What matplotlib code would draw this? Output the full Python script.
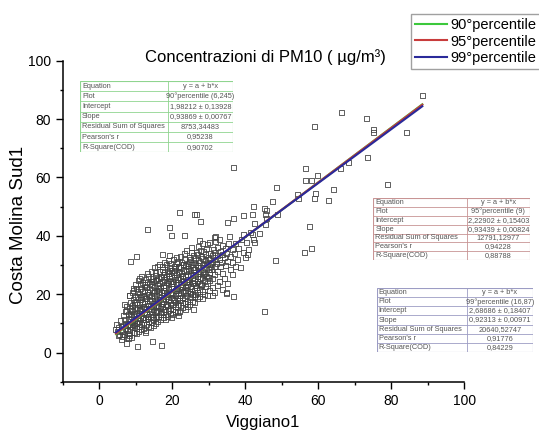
import matplotlib
matplotlib.use("Agg")
import matplotlib.pyplot as plt
import numpy as np

plt.rcParams['font.family'] = ['Liberation Sans', 'DejaVu Sans']

# --- data ---
# dense cloud (Viggiano1, Costa Molina Sud1)
cloud = [
    (5.0, 7.2), (5.3, 8.5), (4.8, 9.6), (5.6, 6.3), (5.9, 10.8), (5.2, 5.8), (4.6, 7.9), (6.0, 8.9),
    (6.3, 5.4), (6.5, 7.1), (6.4, 9.3), (6.8, 11.2), (6.6, 12.8), (7.0, 6.2), (7.1, 8.4), (7.3, 10.1),
    (7.2, 13.9), (7.5, 15.6), (7.6, 5.1), (7.8, 7.6), (7.7, 9.2), (7.9, 11.8), (7.6, 14.4), (6.9, 16.3),
    (8.0, 12.9), (6.2, 4.6), (7.4, 3.2),
    (8.2, 6.0), (8.4, 7.8), (8.3, 9.7), (8.5, 11.4), (8.6, 13.1), (8.4, 15.2), (8.7, 17.3), (8.2, 19.4),
    (8.9, 5.3), (9.0, 8.6), (9.1, 10.5), (8.9, 12.2), (9.2, 14.0), (9.0, 16.1), (9.3, 18.2), (9.1, 20.5),
    (9.5, 22.0), (9.6, 6.8), (9.7, 9.4), (9.8, 11.0), (9.6, 13.2), (9.9, 15.0), (9.7, 17.0), (9.9, 19.1),
    (9.5, 21.1), (10.0, 23.4),
    (10.2, 6.5), (10.3, 8.1), (10.1, 9.9), (10.4, 11.7), (10.2, 13.5), (10.5, 15.4), (10.3, 17.2),
    (10.6, 19.0), (10.4, 20.9), (10.7, 24.6), (10.8, 7.3), (10.9, 9.0), (11.0, 10.8), (10.8, 12.6),
    (11.1, 14.3), (10.9, 16.3), (11.2, 18.1), (11.0, 20.0), (11.3, 22.0), (11.1, 25.5), (11.5, 7.9),
    (11.6, 9.7), (11.4, 11.6), (11.7, 13.3), (11.5, 15.2), (11.8, 17.0), (11.6, 19.1), (11.9, 21.0),
    (11.4, 23.2), (11.7, 26.1),
    (12.1, 8.4), (12.2, 10.3), (12.0, 12.0), (12.3, 13.8), (12.1, 15.7), (12.4, 17.6), (12.2, 19.4),
    (12.5, 21.3), (12.3, 23.2), (12.6, 25.0), (12.8, 7.7), (12.9, 9.5), (12.7, 11.2), (13.0, 13.0),
    (12.8, 14.9), (13.1, 16.8), (12.9, 18.6), (13.2, 20.4), (13.0, 22.4), (13.3, 24.1), (13.1, 27.2),
    (13.5, 8.9), (13.6, 10.7), (13.4, 12.5), (13.7, 14.2), (13.5, 16.1), (13.8, 17.9), (13.6, 19.8),
    (13.9, 21.7), (13.7, 23.5), (13.4, 26.0),
    (14.1, 8.6), (14.2, 10.4), (14.0, 12.2), (14.3, 14.0), (14.1, 15.9), (14.4, 17.7), (14.2, 19.5),
    (14.5, 21.4), (14.3, 23.3), (14.6, 25.2), (14.4, 27.9), (14.8, 9.4), (14.9, 11.3), (14.7, 13.1),
    (15.0, 14.9), (14.8, 16.8), (15.1, 18.6), (14.9, 20.5), (15.2, 22.3), (15.0, 24.2), (15.3, 26.4),
    (15.1, 29.0), (15.5, 10.0), (15.6, 12.0), (15.4, 13.8), (15.7, 15.7), (15.5, 17.5), (15.8, 19.4),
    (15.6, 21.2), (15.9, 23.1), (15.7, 25.0), (15.4, 27.3), (15.9, 29.6),
    (16.1, 10.6), (16.2, 12.5), (16.0, 14.3), (16.3, 16.2), (16.1, 18.0), (16.4, 19.9), (16.2, 21.8),
    (16.5, 23.6), (16.3, 25.5), (16.6, 27.6), (16.4, 30.3), (16.8, 11.3), (16.9, 13.2), (16.7, 15.0),
    (17.0, 16.9), (16.8, 18.7), (17.1, 20.6), (16.9, 22.4), (17.2, 24.3), (17.0, 26.1), (17.3, 28.3),
    (17.5, 12.0), (17.6, 13.9), (17.4, 15.7), (17.7, 17.6), (17.5, 19.4), (17.8, 21.3), (17.6, 23.1),
    (17.9, 25.0), (17.7, 26.8), (17.4, 29.5), (17.9, 31.0),
    (18.1, 11.4), (18.2, 13.0), (18.0, 14.8), (18.3, 16.6), (18.1, 18.5), (18.4, 20.3), (18.2, 22.2),
    (18.5, 24.0), (18.3, 25.9), (18.6, 27.8), (18.4, 30.0), (18.8, 12.4), (18.9, 14.3), (18.7, 16.1),
    (19.0, 18.0), (18.8, 19.8), (19.1, 21.7), (18.9, 23.5), (19.2, 25.4), (19.0, 27.2), (19.3, 29.0),
    (19.1, 31.6), (19.5, 13.3), (19.6, 15.1), (19.4, 17.0), (19.7, 18.8), (19.5, 20.7), (19.8, 22.5),
    (19.6, 24.4), (19.9, 26.2), (19.7, 28.1), (19.4, 30.4),
    (20.1, 12.9), (20.2, 14.6), (20.0, 16.4), (20.3, 18.3), (20.1, 20.1), (20.4, 22.0), (20.2, 23.8),
    (20.5, 25.7), (20.3, 27.5), (20.6, 29.4), (20.4, 31.8), (20.8, 14.0), (20.9, 15.8), (20.7, 17.7),
    (21.0, 19.5), (20.8, 21.4), (21.1, 23.2), (20.9, 25.1), (21.2, 26.9), (21.0, 28.8), (21.3, 30.6),
    (21.1, 32.5), (21.5, 13.6), (21.6, 16.5), (21.4, 18.4), (21.7, 20.2), (21.5, 22.1), (21.8, 23.9),
    (21.6, 25.8), (21.9, 27.6), (21.7, 29.5), (21.4, 31.3),
    (22.1, 14.2), (22.2, 16.0), (22.0, 17.9), (22.3, 19.7), (22.1, 21.6), (22.4, 23.4), (22.2, 25.3),
    (22.5, 27.1), (22.3, 29.0), (22.6, 30.9), (22.4, 33.0), (22.8, 15.3), (22.9, 17.1), (22.7, 19.0),
    (23.0, 20.8), (22.8, 22.7), (23.1, 24.5), (22.9, 26.4), (23.2, 28.2), (23.0, 30.1), (23.3, 31.9),
    (23.5, 14.6), (23.6, 16.7), (23.4, 18.6), (23.7, 20.4), (23.5, 22.3), (23.8, 24.1), (23.6, 26.0),
    (23.9, 27.8), (23.7, 29.7), (23.4, 33.8), (23.9, 35.0),
    (24.1, 15.7), (24.2, 17.6), (24.0, 19.5), (24.3, 21.3), (24.1, 23.2), (24.4, 25.0), (24.2, 26.9),
    (24.5, 28.7), (24.3, 30.6), (24.6, 32.4), (24.8, 16.3), (24.9, 18.9), (24.7, 20.8), (25.0, 22.6),
    (24.8, 24.5), (25.1, 26.3), (24.9, 28.2), (25.2, 30.0), (25.0, 31.9), (25.3, 34.2), (25.5, 17.5),
    (25.6, 19.9), (25.4, 21.8), (25.7, 23.6), (25.5, 25.5), (25.8, 27.3), (25.6, 29.2), (25.9, 31.0),
    (25.7, 33.1), (25.4, 36.0),
    (26.1, 17.2), (26.2, 19.2), (26.0, 21.1), (26.3, 22.9), (26.1, 24.8), (26.4, 26.6), (26.2, 28.5),
    (26.5, 30.3), (26.3, 32.2), (26.6, 34.3), (26.8, 18.4), (26.9, 20.5), (26.7, 22.4), (27.0, 24.2),
    (26.8, 26.1), (27.1, 27.9), (26.9, 29.8), (27.2, 31.6), (27.0, 33.5), (27.3, 36.4), (27.5, 19.1),
    (27.6, 21.7), (27.4, 23.5), (27.7, 25.4), (27.5, 27.2), (27.8, 29.1), (27.6, 30.9), (27.9, 32.8),
    (27.7, 35.0),
    (28.2, 18.6), (28.3, 21.0), (28.1, 23.4), (28.4, 25.7), (28.2, 27.8), (28.5, 30.0), (28.3, 32.3),
    (28.6, 34.6), (28.4, 37.2), (28.9, 20.0), (29.0, 22.6), (28.8, 24.8), (29.1, 27.0), (28.9, 29.2),
    (29.2, 31.4), (29.0, 33.6), (29.3, 35.8), (29.6, 19.5), (29.7, 23.8), (29.5, 26.1), (29.8, 28.4),
    (29.6, 30.6), (29.9, 32.7), (29.7, 36.9),
    (30.2, 21.2), (30.3, 24.6), (30.1, 27.3), (30.4, 29.5), (30.2, 31.8), (30.5, 34.0), (30.3, 37.6),
    (30.9, 22.4), (31.0, 25.5), (30.8, 28.5), (31.1, 30.7), (30.9, 33.1), (31.2, 35.3), (31.6, 20.6),
    (31.7, 26.8), (31.5, 29.6), (31.8, 32.0), (31.6, 34.4), (31.9, 38.2),
    (32.3, 22.8), (32.4, 27.9), (32.2, 30.6), (32.5, 33.2), (32.3, 36.0), (33.0, 24.5), (33.1, 29.4),
    (32.9, 31.9), (33.2, 34.6), (33.0, 38.7), (33.7, 21.5), (33.8, 27.0), (33.6, 30.8), (33.9, 33.5),
    (33.7, 36.8), (34.4, 25.4), (34.5, 29.8), (34.3, 32.5), (34.6, 35.6), (35.1, 23.6), (35.2, 31.1),
    (35.0, 34.0), (35.3, 37.5), (35.9, 28.4), (36.0, 33.0), (35.8, 39.6), (36.5, 26.8), (36.6, 35.2),
    (36.4, 31.0), (37.2, 29.6), (37.3, 37.2), (37.1, 33.8), (38.0, 31.9), (38.1, 35.8), (38.8, 29.0),
    (38.9, 38.7), (39.5, 34.2), (39.6, 40.6), (40.2, 32.5), (40.4, 37.6), (41.0, 35.4), (41.5, 41.0),
]

# extra points in the darkest part of the cloud
core = [
    (8.6, 8.9), (9.4, 12.9), (9.8, 16.4), (10.6, 10.2), (10.9, 14.9), (11.3, 18.8), (11.9, 11.9),
    (12.4, 15.1), (12.6, 18.4), (12.9, 22.7), (13.2, 11.6), (13.6, 15.0), (13.9, 19.1), (14.2, 24.4),
    (14.6, 12.1), (14.9, 16.0), (15.2, 20.8), (15.5, 24.6), (15.8, 14.2), (16.0, 17.2), (16.3, 21.0),
    (16.7, 25.8), (17.0, 13.8), (17.3, 18.1), (17.6, 22.4), (17.9, 27.3), (18.2, 15.6), (18.6, 19.2),
    (18.9, 24.7), (19.2, 28.2), (19.5, 16.0), (19.8, 20.3), (20.1, 24.5), (20.5, 28.0), (20.8, 17.1),
    (21.1, 21.1), (21.4, 25.0), (21.8, 29.0), (22.1, 18.7), (22.5, 22.4), (22.8, 26.1), (23.2, 30.0),
    (23.6, 21.4), (24.0, 24.5), (24.4, 28.0), (24.7, 31.2), (25.1, 20.3), (25.5, 24.1), (25.9, 28.3),
    (26.4, 20.0), (26.8, 25.2), (27.2, 29.0), (27.9, 23.0), (28.6, 26.9), (29.3, 30.3), (30.0, 25.6),
    (30.6, 30.5), (6.1, 7.6), (7.1, 9.5), (7.9, 6.6), (8.8, 14.3), (9.3, 9.5), (10.3, 22.1),
    (11.9, 24.1), (12.6, 6.9),
]

# scattered points away from the cloud
outliers = [
    (88.5, 88.0), (66.3, 82.3), (73.2, 80.1), (59.1, 77.3), (75.2, 76.5), (75.2, 75.4), (84.1, 75.3),
    (73.5, 66.9), (68.3, 65.2), (66.1, 63.2), (56.5, 63.1), (59.8, 60.8), (56.5, 59.0), (58.2, 59.0),
    (78.9, 57.6), (48.6, 56.6), (64.2, 55.9), (59.2, 54.6), (54.4, 54.3), (54.7, 52.8), (58.9, 52.7),
    (62.8, 52.0), (47.6, 51.9), (42.3, 50.1), (45.3, 49.3), (45.8, 48.5), (42.1, 47.3), (45.5, 47.2),
    (48.7, 47.4), (45.8, 45.8), (42.4, 44.1), (45.5, 44.0), (57.6, 43.1), (43.9, 40.8), (41.9, 40.4),
    (42.3, 38.6), (42.5, 37.6), (58.2, 35.5), (56.3, 34.4), (48.3, 31.5), (45.3, 14.1),
    (36.8, 63.5), (22.1, 48.0), (26.0, 47.2), (26.7, 47.4), (27.8, 44.9), (13.2, 42.1), (19.3, 43.0),
    (19.8, 40.2), (23.4, 40.2), (35.1, 44.5), (36.9, 46.0), (39.6, 46.9), (27.6, 38.4), (31.7, 39.3),
    (8.7, 31.2), (10.1, 32.8), (17.3, 33.7), (19.2, 33.3), (40.6, 33.7), (34.9, 20.1), (36.9, 19.1),
    (31.0, 19.6), (25.9, 14.6), (21.7, 12.7), (19.8, 12.0), (10.5, 2.1), (14.5, 3.9), (17.1, 2.4),
    (8.0, 4.7), (8.2, 19.6), (31.8, 39.8), (34.8, 20.6),
]

percentiles = ["90°percentile", "95°percentile", "99°percentile"]
intercepts = [1.98212, 2.22902, 2.68686]
slopes = [0.93869, 0.93439, 0.92313]
line_colors = ["#3cc83c", "#c83c3c", "#2a2a9a"]

tables = [
    ["y = a + b*x", "90°percentile (6,245)", "1,98212 ± 0,13928", "0,93869 ± 0,00767",
     "8753,34483", "0,95238", "0,90702"],
    ["y = a + b*x", "95°percentile (9)", "2,22902 ± 0,15403", "0,93439 ± 0,00824",
     "12791,12977", "0,94228", "0,88788"],
    ["y = a + b*x", "99°percentile (16,87)", "2,68686 ± 0,18407", "0,92313 ± 0,00971",
     "20640,52747", "0,91776", "0,84229"],
]
row_names = ["Equation", "Plot", "Intercept", "Slope", "Residual Sum of Squares",
             "Pearson's r", "R-Square(COD)"]

W, H = 539, 430
fig = plt.figure(figsize=(W / 100, H / 100), dpi=100)
ax = fig.add_axes([62.7 / W, 1 - 381.7 / H, (464.3 - 62.7) / W, (381.7 - 60.7) / H])

pts = np.array(cloud + core + outliers)
ax.scatter(pts[:, 0], pts[:, 1], s=13, marker="s", facecolors="none",
           edgecolors="#454545", linewidths=0.6, zorder=2)

xs = np.array([pts[:, 0].min(), pts[:, 0].max()])
for lab, a, b, c in zip(percentiles, intercepts, slopes, line_colors):
    ax.plot(xs, a + b * xs, color=c, lw=1.5, label=lab, zorder=3)

ax.set_xlim(-10, 100)
ax.set_ylim(-10, 100)
ax.set_xticks([0, 20, 40, 60, 80, 100])
ax.set_yticks([0, 20, 40, 60, 80, 100])
ax.set_xticks(np.arange(-10, 101, 10), minor=True)
ax.set_yticks(np.arange(-10, 101, 10), minor=True)
ax.tick_params(which="major", direction="out", length=5, width=1, labelsize=10)
ax.tick_params(which="minor", direction="out", length=2.5, width=1)
for s in ["top", "right"]:
    ax.spines[s].set_visible(False)
for s in ["left", "bottom"]:
    ax.spines[s].set_linewidth(1.1)

fig.text(265 / W, 1 - 57 / H, "Concentrazioni di PM10 ( µg/m³)", ha="center",
         va="center", fontsize=12)
fig.text(19 / W, 1 - 225 / H, "Costa Molina Sud1", rotation=90, ha="center", va="center",
         fontsize=13.5)
fig.text(263 / W, 1 - 427.5 / H, "Viggiano1", ha="center", va="baseline", fontsize=12)

fig.legend(loc="upper left", bbox_to_anchor=(411 / W, 1 - 14 / H), fontsize=10.5,
           frameon=True, fancybox=False, edgecolor="#888888", handlelength=2.2,
           handletextpad=0.25, labelspacing=0.2, borderpad=0.25, borderaxespad=0)


def draw_table(left, top, right, bottom, split, values, edge):
    tax = fig.add_axes([left / W, 1 - bottom / H, (right - left) / W, (bottom - top) / H])
    tax.set_xlim(left, right)
    tax.set_ylim(bottom, top)
    tax.axis("off")
    tax.add_patch(plt.Rectangle((left, top), right - left, bottom - top, facecolor="white",
                                edgecolor=edge, lw=0.8))
    n = len(values)
    rh = (bottom - top) / n
    for i in range(1, n):
        tax.plot([left, right], [top + i * rh] * 2, color=edge, lw=0.6)
    tax.plot([split, split], [top, bottom], color=edge, lw=0.6)
    for i, (nm, v) in enumerate(zip(row_names, values)):
        yc = top + (i + 0.5) * rh
        tax.text(left + 2, yc, nm, fontsize=5.3, color="#555555", va="center", ha="left")
        tax.text((split + right) / 2, yc, v, fontsize=5.3, color="#555555", va="center",
                 ha="center")


draw_table(80, 81, 233.3, 152.3, 167.7, tables[0], "#8fd48f")
draw_table(373.3, 198.3, 530, 260, 466.7, tables[1], "#c89494")
draw_table(376.7, 288.3, 533.3, 351.7, 466.7, tables[2], "#9c9cc4")

fig.savefig("out.png", dpi=100)
